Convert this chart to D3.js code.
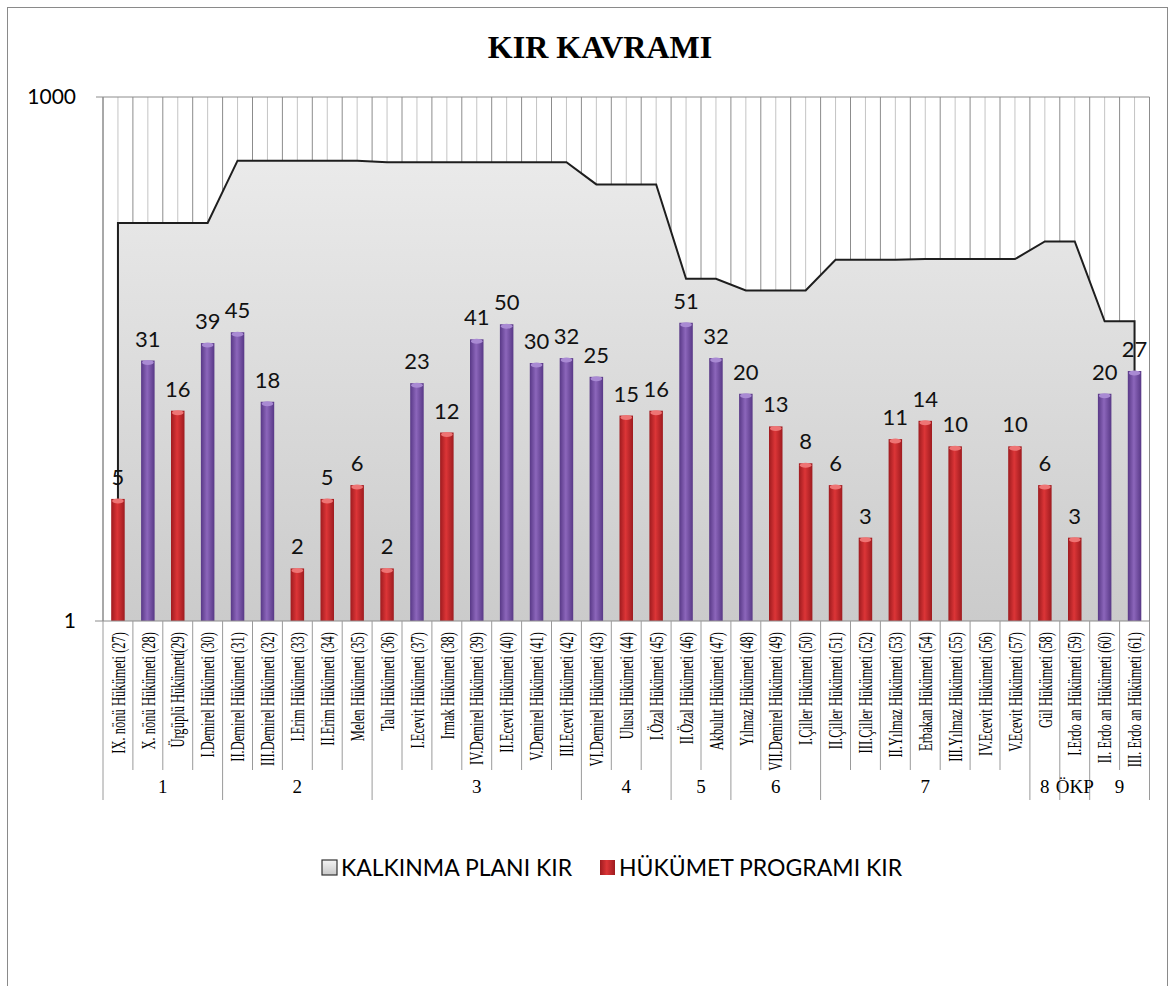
<!DOCTYPE html>
<html lang="tr">
<head>
<meta charset="UTF-8">
<title>KIR KAVRAMI</title>
<script src="https://cdn.jsdelivr.net/npm/d3@7/dist/d3.min.js"></script>
<style>
  body { margin: 0; background: #fff; }
  .sans { font-family: Lato, "Open Sans", sans-serif; }
  .serif { font-family: "Liberation Serif", "DejaVu Serif", serif; }
</style>
</head>
<body>
<script>
var categories = [
  'IX. nönü Hükümeti (27)', 'X. nönü Hükümeti (28)', 'Ürgüplü Hükümeti(29)', 'I.Demirel Hükümeti (30)',
  'II.Demirel Hükümeti (31)', 'III.Demirel Hükümeti (32)', 'I.Erim Hükümeti (33)', 'II.Erim Hükümeti (34)',
  'Melen Hükümeti (35)', 'Talu Hükümeti (36)', 'I.Ecevit Hükümeti (37)', 'Irmak Hükümeti (38)',
  'IV.Demirel Hükümeti (39)', 'II.Ecevit Hükümeti (40)', 'V.Demirel Hükümeti (41)', 'III.Ecevit Hükümeti (42)',
  'VI.Demirel Hükümeti (43)', 'Ulusu Hükümeti (44)', 'I.Özal Hükümeti (45)', 'II.Özal Hükümeti (46)',
  'Akbulut Hükümeti (47)', 'Yılmaz Hükümeti (48)', 'VII.Demirel Hükümeti (49)', 'I.Çiller Hükümeti (50)',
  'II.Çiller Hükümeti (51)', 'III.Çiller Hükümeti (52)', 'II.Yılmaz Hükümeti (53)', 'Erbakan Hükümeti (54)',
  'III.Yılmaz Hükümeti (55)', 'IV.Ecevit Hükümeti (56)', 'V.Ecevit Hükümeti (57)', 'Gül Hükümeti (58)',
  'I.Erdo an Hükümeti (59)', 'II. Erdo an Hükümeti (60)', 'III. Erdo an Hükümeti (61)'
]
// HÜKÜMET PROGRAMI KIR (bars)
var programValues = [5, 31, 16, 39, 45, 18, 2, 5, 6, 2, 23, 12, 41, 50, 30, 32, 25, 15, 16, 51,
  32, 20, 13, 8, 6, 3, 11, 14, 10, null, 10, 6, 3, 20, 27]
// KALKINMA PLANI KIR (area)
var planValues = [190, 190, 190, 190, 432, 432, 432, 432, 432, 423, 423, 423, 423, 423, 423, 423,
  316, 316, 316, 91, 91, 78, 78, 78, 117, 117, 117, 118, 118, 118, 118, 149, 149, 52, 52]
// governments whose bar is drawn in purple
var purpleGovs = [28, 30, 31, 32, 37, 39, 40, 41, 42, 43, 46, 47, 48, 60, 61]
var groupLabels = ['1', '2', '3', '4', '5', '6', '7', '8', 'ÖKP', '9']
var groupSizes = [4, 5, 7, 3, 2, 3, 7, 1, 1, 2]
var yTicks = [1, 1000]
var legendLabels = ['KALKINMA PLANI KIR', 'HÜKÜMET PROGRAMI KIR']

var width = 1175,
    height = 986,
    plot = { left: 103, right: 1149.5, top: 97, bottom: 621 },
    sepEnd = 770,
    groupEnd = 800,
    barWidth = 13.5

var svg = d3.select('body').append('svg')
    .attr('width', width)
    .attr('height', height)

var defs = svg.append('defs')

function hGrad(id, edge, mid) {
    var g = defs.append('linearGradient').attr('id', id)
        .attr('x1', 0).attr('x2', 1).attr('y1', 0).attr('y2', 0)
    g.append('stop').attr('offset', '0%').attr('stop-color', edge)
    g.append('stop').attr('offset', '45%').attr('stop-color', mid)
    g.append('stop').attr('offset', '100%').attr('stop-color', edge)
}
hGrad('redBar', '#9e1b1f', '#dc3537')
hGrad('purpleBar', '#583886', '#8c66bb')

var areaGrad = defs.append('linearGradient').attr('id', 'areaFill')
    .attr('gradientUnits', 'userSpaceOnUse')
    .attr('x1', 0).attr('x2', 0).attr('y1', 150).attr('y2', plot.bottom)
areaGrad.append('stop').attr('offset', '0%').attr('stop-color', '#ebebeb')
areaGrad.append('stop').attr('offset', '100%').attr('stop-color', '#cbcbcb')

var legGrad = defs.append('linearGradient').attr('id', 'legGrey')
    .attr('x1', 0).attr('x2', 0).attr('y1', 0).attr('y2', 1)
legGrad.append('stop').attr('offset', '0%').attr('stop-color', '#f4f4f4')
legGrad.append('stop').attr('offset', '100%').attr('stop-color', '#c8c8c8')

// chart border
svg.append('rect')
    .attr('x', 7.5).attr('y', 7.5)
    .attr('width', 1160).attr('height', 995)
    .attr('fill', 'none').attr('stroke', '#8a8a8a')

svg.append('text')
    .attr('class', 'serif')
    .attr('x', 600).attr('y', 58)
    .attr('text-anchor', 'middle')
    .attr('font-size', 32).attr('font-weight', 'bold')
    .text('KIR KAVRAMI')

var x = d3.scaleBand()
    .domain(d3.range(categories.length))
    .range([plot.left, plot.right])
    .padding(0)
var step = x.step()
var cx = function (i) { return x(i) + step / 2 }

var y = d3.scaleLog()
    .domain([1, 1000])
    .range([plot.bottom, plot.top])

// vertical grid: category boundaries and centres
var grid = svg.append('g')
grid.selectAll('line.mid')
    .data(d3.range(categories.length))
    .enter().append('line')
    .attr('x1', function (i) { return cx(i) }).attr('x2', function (i) { return cx(i) })
    .attr('y1', plot.top).attr('y2', plot.bottom)
    .attr('stroke', '#c4c4c4').attr('stroke-width', 1)
grid.selectAll('line.edge')
    .data(d3.range(categories.length + 1))
    .enter().append('line')
    .attr('x1', function (i) { return plot.left + i * step }).attr('x2', function (i) { return plot.left + i * step })
    .attr('y1', plot.top).attr('y2', plot.bottom)
    .attr('stroke', '#8c8c8c').attr('stroke-width', 1)
grid.append('line')
    .attr('x1', plot.left - 7).attr('x2', plot.right)
    .attr('y1', y(1000)).attr('y2', y(1000))
    .attr('stroke', '#8c8c8c')

// area series
var area = d3.area()
    .x(function (d, i) { return cx(i) })
    .y0(y(1))
    .y1(function (d) { return y(d) })
svg.append('path')
    .datum(planValues)
    .attr('d', area)
    .attr('fill', 'url(#areaFill)')

var outline = [{ i: 0, v: 1 }]
planValues.forEach(function (v, i) { outline.push({ i: i, v: v }) })
outline.push({ i: planValues.length - 1, v: 1 })
svg.append('path')
    .datum(outline)
    .attr('d', d3.line().x(function (d) { return cx(d.i) }).y(function (d) { return y(d.v) }))
    .attr('fill', 'none')
    .attr('stroke', '#1e1e1e')
    .attr('stroke-width', 2)

// bars
var bars = svg.append('g')
programValues.forEach(function (v, i) {
    if (v == null) return
    var purple = purpleGovs.indexOf(27 + i) >= 0
    var top = y(v)
    bars.append('rect')
        .attr('x', cx(i) - barWidth / 2)
        .attr('y', top)
        .attr('width', barWidth)
        .attr('height', y(1) - top)
        .attr('fill', purple ? 'url(#purpleBar)' : 'url(#redBar)')
    bars.append('ellipse')
        .attr('cx', cx(i)).attr('cy', top + 2)
        .attr('rx', barWidth / 2 - 1).attr('ry', 2.5)
        .attr('fill', purple ? '#a98ad3' : '#ee7474')
    bars.append('text')
        .attr('class', 'sans')
        .attr('x', cx(i))
        .attr('y', top - 14)
        .attr('text-anchor', 'middle')
        .attr('font-size', 22)
        .attr('fill', '#111')
        .text(v)
})

// y axis
svg.append('line')
    .attr('x1', plot.left).attr('x2', plot.left)
    .attr('y1', plot.top).attr('y2', plot.bottom)
    .attr('stroke', '#8c8c8c')
svg.selectAll('text.ytick')
    .data(yTicks)
    .enter().append('text')
    .attr('class', 'sans')
    .attr('x', 76)
    .attr('y', function (d) { return y(d) })
    .attr('dy', '0.35em')
    .attr('text-anchor', 'end')
    .attr('font-size', 21)
    .text(function (d) { return d })

// x axis line
svg.append('line')
    .attr('x1', plot.left - 8).attr('x2', plot.right)
    .attr('y1', plot.bottom).attr('y2', plot.bottom)
    .attr('stroke', '#8c8c8c')

// category labels + separators
var groupEdges = [0]
groupSizes.forEach(function (s, k) { groupEdges.push(groupEdges[k] + s) })

svg.selectAll('line.sep')
    .data(d3.range(categories.length + 1))
    .enter().append('line')
    .attr('x1', function (i) { return plot.left + i * step })
    .attr('x2', function (i) { return plot.left + i * step })
    .attr('y1', plot.bottom)
    .attr('y2', function (i) { return groupEdges.indexOf(i) >= 0 ? groupEnd : sepEnd })
    .attr('stroke', '#9a9a9a')

svg.selectAll('text.cat')
    .data(categories)
    .enter().append('text')
    .attr('class', 'serif')
    .attr('transform', function (d, i) {
        return 'translate(' + cx(i) + ',' + (plot.bottom + 11) + ') rotate(-90) scale(0.66,1)'
    })
    .attr('dy', '0.35em')
    .attr('text-anchor', 'end')
    .attr('font-size', 19)
    .text(function (d) { return d })

svg.selectAll('text.grp')
    .data(groupLabels)
    .enter().append('text')
    .attr('class', 'serif')
    .attr('x', function (d, k) { return plot.left + (groupEdges[k] + groupEdges[k + 1]) / 2 * step })
    .attr('y', 793)
    .attr('text-anchor', 'middle')
    .attr('font-size', 19)
    .text(function (d) { return d })

// legend
var legend = svg.append('g').attr('class', 'sans')
var legX = [322, 600]
legend.append('rect')
    .attr('x', legX[0]).attr('y', 860).attr('width', 15).attr('height', 15)
    .attr('fill', 'url(#legGrey)').attr('stroke', '#333').attr('stroke-width', 1.2)
legend.append('rect')
    .attr('x', legX[1]).attr('y', 860).attr('width', 15).attr('height', 15)
    .attr('fill', 'url(#redBar)')
legend.selectAll('text')
    .data(legendLabels)
    .enter().append('text')
    .attr('x', function (d, i) { return legX[i] + 19 })
    .attr('y', 868)
    .attr('dy', '0.35em')
    .attr('font-size', 23)
    .text(function (d) { return d })
</script>
</body>
</html>
